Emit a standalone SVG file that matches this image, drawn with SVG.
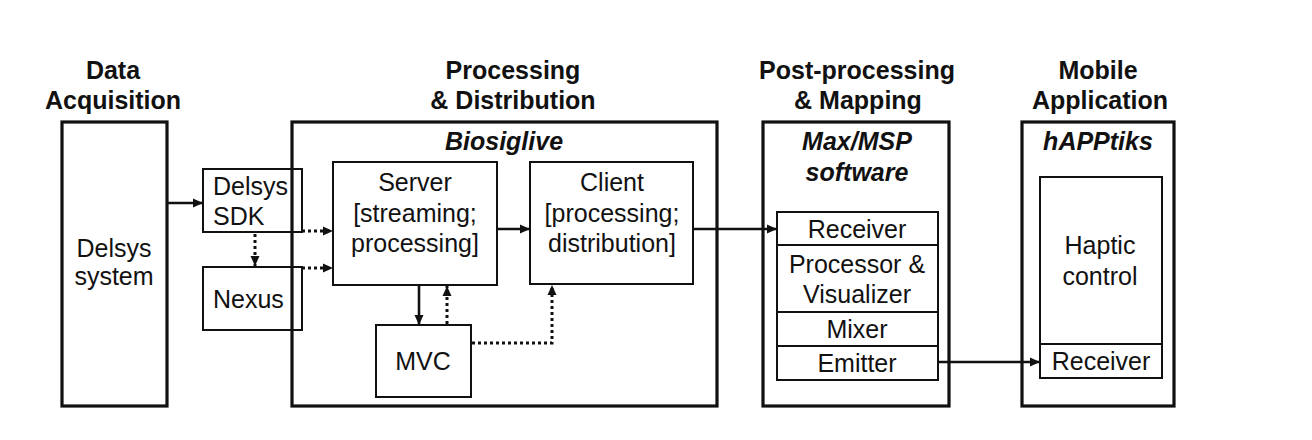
<svg xmlns="http://www.w3.org/2000/svg" width="1312" height="440" viewBox="0 0 1312 440">
<style>
  text { font-family: "Liberation Sans", Arial, sans-serif; font-size: 25px; fill: #111; text-anchor: middle; }
  .title { font-weight: bold; }
  .bi { font-weight: bold; font-style: italic; }
  .left { text-anchor: start; }
  .thick { fill: none; stroke: #111; stroke-width: 3.2; }
  .thin { fill: none; stroke: #111; stroke-width: 2; }
  .solid { fill: none; stroke: #111; stroke-width: 2.6; }
  .dot { fill: none; stroke: #111; stroke-width: 3; stroke-dasharray: 3 3; }
</style>
<defs>
  <marker id="ah" markerUnits="userSpaceOnUse" markerWidth="10" markerHeight="10" viewBox="0 0 10 10" refX="10" refY="5" orient="auto">
    <path d="M0,0.5 L10,5 L0,9.5 Z" fill="#111"/>
  </marker>
</defs>
<rect width="1312" height="440" fill="#ffffff"/>

<g id="titles">
  <text class="title" x="113" y="79">Data</text>
  <text class="title" x="113" y="109">Acquisition</text>
  <text class="title" x="513" y="79">Processing</text>
  <text class="title" x="513" y="109">&amp; Distribution</text>
  <text class="title" x="857" y="79">Post-processing</text>
  <text class="title" x="858" y="109">&amp; Mapping</text>
  <text class="title" x="1098" y="79">Mobile</text>
  <text class="title" x="1100" y="109">Application</text>
</g>

<g id="delsys-system">
  <rect class="thick" x="62" y="122" width="105" height="284"/>
  <text x="114" y="257">Delsys</text>
  <text x="114" y="285">system</text>
</g>

<g id="processing">
  <rect class="thick" x="292" y="122" width="425" height="284"/>
  <text class="bi" x="504" y="150">Biosiglive</text>
</g>

<g id="delsys-sdk">
  <rect class="thin" x="203" y="169" width="99" height="63"/>
  <text class="left" x="213" y="195">Delsys</text>
  <text class="left" x="213" y="225">SDK</text>
</g>

<g id="nexus">
  <rect class="thin" x="203" y="267" width="99" height="63"/>
  <text class="left" x="213" y="308">Nexus</text>
</g>

<g id="server">
  <rect class="thin" x="333" y="162" width="164" height="123"/>
  <text x="415" y="191">Server</text>
  <text x="415" y="222">[streaming;</text>
  <text x="415" y="252">processing]</text>
</g>

<g id="client">
  <rect class="thin" x="530" y="162" width="163" height="122"/>
  <text x="612" y="191">Client</text>
  <text x="612" y="222">[processing;</text>
  <text x="612" y="252">distribution]</text>
</g>

<g id="mvc">
  <rect class="thin" x="376" y="325" width="95" height="72"/>
  <text x="423" y="370">MVC</text>
</g>

<g id="postprocessing">
  <rect class="thick" x="763" y="122" width="186" height="284"/>
  <text class="bi" x="857" y="150">Max/MSP</text>
  <text class="bi" x="857" y="181">software</text>
  <rect class="thin" x="777" y="212" width="161" height="168"/>
  <line class="thin" x1="777" y1="245" x2="938" y2="245"/>
  <line class="thin" x1="777" y1="312" x2="938" y2="312"/>
  <line class="thin" x1="777" y1="346" x2="938" y2="346"/>
  <text x="857" y="238">Receiver</text>
  <text x="857" y="273">Processor &amp;</text>
  <text x="857" y="303">Visualizer</text>
  <text x="857" y="338">Mixer</text>
  <text x="857" y="372">Emitter</text>
</g>

<g id="mobile">
  <rect class="thick" x="1022" y="122" width="152" height="284"/>
  <text class="bi" x="1098" y="150">hAPPtiks</text>
  <rect class="thin" x="1040" y="177" width="122" height="201"/>
  <line class="thin" x1="1040" y1="344" x2="1162" y2="344"/>
  <text x="1100" y="254">Haptic</text>
  <text x="1100" y="285">control</text>
  <text x="1101" y="370">Receiver</text>
</g>

<g id="connectors">
  <line class="solid" x1="168" y1="203" x2="203" y2="203" marker-end="url(#ah)"/>
  <line class="dot" x1="255" y1="234" x2="255" y2="266" marker-end="url(#ah)"/>
  <line class="dot" x1="302" y1="231" x2="333" y2="231" marker-end="url(#ah)"/>
  <line class="dot" x1="302" y1="268" x2="333" y2="268" marker-end="url(#ah)"/>
  <line class="solid" x1="497" y1="229" x2="530" y2="229" marker-end="url(#ah)"/>
  <line class="solid" x1="419" y1="286" x2="419" y2="325" marker-end="url(#ah)"/>
  <line class="dot" x1="447" y1="324" x2="447" y2="286" marker-end="url(#ah)"/>
  <polyline class="dot" points="472,343 552,343 552,285" marker-end="url(#ah)"/>
  <line class="solid" x1="693" y1="229" x2="777" y2="229" marker-end="url(#ah)"/>
  <line class="solid" x1="938" y1="362" x2="1040" y2="362" marker-end="url(#ah)"/>
</g>
</svg>
